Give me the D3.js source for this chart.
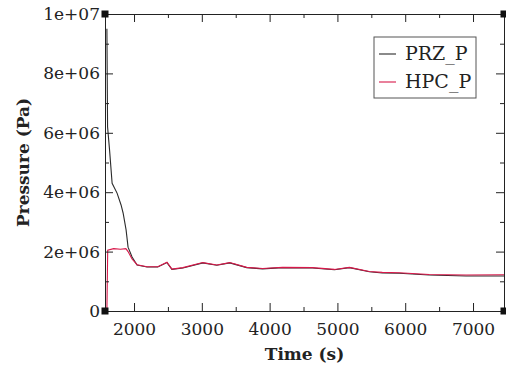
<!DOCTYPE html>
<html>
<head>
<meta charset="utf-8">
<script src="https://cdn.jsdelivr.net/npm/d3@7"></script>
<style>
  body { margin: 0; background: #fff; }
  svg { display: block; font-family: "DejaVu Serif", serif; }
  .axis path, .axis line { stroke: #222; }
  .axis text { font-size: 17px; fill: #222; font-family: "DejaVu Serif", serif; }
</style>
</head>
<body>
<div id="chart"></div>
<script>
// PRZ_P series
const przTime = [1600, 1610, 1640, 1677, 1750, 1809, 1839, 1883, 1912, 1971, 2045, 2192, 2350, 2486, 2559, 2721, 3015, 3221, 3412, 3662, 3897, 4192, 4633, 4956, 5177, 5471, 5662, 5912, 6353, 6897, 7457];
const przP = [9.5e6, 6.2e6, 5.4e6, 4.3e6, 3.97e6, 3.57e6, 3.3e6, 2.73e6, 2.15e6, 1.82e6, 1.55e6, 1.48e6, 1.48e6, 1.63e6, 1.4e6, 1.45e6, 1.62e6, 1.54e6, 1.62e6, 1.46e6, 1.42e6, 1.46e6, 1.45e6, 1.39e6, 1.46e6, 1.32e6, 1.28e6, 1.27e6, 1.21e6, 1.18e6, 1.18e6];

// HPC_P series
const hpcTime = [1600, 1612, 1700, 1800, 1880, 1912, 1971, 2045, 2192, 2350, 2486, 2559, 2721, 3015, 3221, 3412, 3662, 3897, 4192, 4633, 4956, 5177, 5471, 5662, 5912, 6353, 6897, 7457];
const hpcP = [0, 2.05e6, 2.1e6, 2.08e6, 2.1e6, 2.0e6, 1.75e6, 1.56e6, 1.49e6, 1.49e6, 1.64e6, 1.41e6, 1.46e6, 1.63e6, 1.55e6, 1.63e6, 1.47e6, 1.43e6, 1.47e6, 1.46e6, 1.4e6, 1.47e6, 1.33e6, 1.3e6, 1.29e6, 1.23e6, 1.21e6, 1.22e6];

const seriesNames = ["PRZ_P", "HPC_P"];
const seriesColors = ["#2b2b2b", "#d8184a"];

const xMajor = [2000, 3000, 4000, 5000, 6000, 7000];
const yMajor = [0, 2e6, 4e6, 6e6, 8e6, 1e7];
const yLabels = ["0", "2e+06", "4e+06", "6e+06", "8e+06", "1e+07"];

function buildChart() {
  const width = 506;
  const height = 367;
  const margin = { top: 14, right: 2, bottom: 56, left: 105 };
  const w = width - margin.left - margin.right;
  const h = height - margin.top - margin.bottom;

  const svg = d3.select("#chart")
    .append("svg")
    .attr("width", width)
    .attr("height", height);

  const g = svg.append("g")
    .attr("transform", `translate(${margin.left},${margin.top})`);

  const x = d3.scaleLinear().domain([1572, 7457]).range([0, w]);
  const y = d3.scaleLinear().domain([0, 1e7]).range([h, 0]);

  const xMinor = d3.range(2000, 7457, 500).filter((d) => d % 1000 !== 0);
  const yMinor = d3.range(1e6, 1e7, 2e6);

  // lines first, frame on top
  const series = [
    { name: seriesNames[0], t: przTime, p: przP, color: seriesColors[0] },
    { name: seriesNames[1], t: hpcTime, p: hpcP, color: seriesColors[1] }
  ];

  const line = d3.line()
    .x((d) => x(d[0]))
    .y((d) => y(d[1]));

  g.append("g")
    .attr("class", "lines")
    .selectAll("path")
    .data(series)
    .join("path")
    .attr("fill", "none")
    .attr("stroke", (d) => d.color)
    .attr("stroke-width", 1.1)
    .attr("d", (d) => line(d.t.map((t, i) => [t, d.p[i]])));

  // bottom axis
  g.append("g")
    .attr("class", "axis")
    .attr("transform", `translate(0,${h})`)
    .call(d3.axisBottom(x).tickValues(xMajor).tickSize(-8).tickSizeOuter(0).tickPadding(12).tickFormat(d3.format("d")));
  g.append("g")
    .attr("class", "axis")
    .attr("transform", `translate(0,${h})`)
    .call(d3.axisBottom(x).tickValues(xMinor).tickSize(-4).tickSizeOuter(0).tickFormat(""));

  // top axis
  g.append("g")
    .attr("class", "axis")
    .call(d3.axisTop(x).tickValues(xMajor).tickSize(-8).tickSizeOuter(0).tickFormat(""));
  g.append("g")
    .attr("class", "axis")
    .call(d3.axisTop(x).tickValues(xMinor).tickSize(-4).tickSizeOuter(0).tickFormat(""));

  // left axis
  g.append("g")
    .attr("class", "axis")
    .call(d3.axisLeft(y).tickValues(yMajor).tickSize(-8).tickSizeOuter(0).tickPadding(5)
      .tickFormat((d, i) => yLabels[i]));
  g.append("g")
    .attr("class", "axis")
    .call(d3.axisLeft(y).tickValues(yMinor).tickSize(-4).tickSizeOuter(0).tickFormat(""));

  // right axis
  g.append("g")
    .attr("class", "axis")
    .attr("transform", `translate(${w},0)`)
    .call(d3.axisRight(y).tickValues(yMajor).tickSize(-8).tickSizeOuter(0).tickFormat(""));
  g.append("g")
    .attr("class", "axis")
    .attr("transform", `translate(${w},0)`)
    .call(d3.axisRight(y).tickValues(yMinor).tickSize(-4).tickSizeOuter(0).tickFormat(""));

  // corner squares
  const corners = [[0, 0], [0, h], [w, 0], [w, h]];
  g.append("g")
    .selectAll("rect")
    .data(corners)
    .join("rect")
    .attr("x", (d) => d[0] - 3.5)
    .attr("y", (d) => d[1] - 3.5)
    .attr("width", 7)
    .attr("height", 7)
    .attr("fill", "#111");

  // axis titles
  svg.append("text")
    .attr("x", margin.left + w / 2)
    .attr("y", 360)
    .attr("text-anchor", "middle")
    .attr("font-size", 17)
    .attr("font-weight", "bold")
    .attr("fill", "#222")
    .text("Time (s)");

  svg.append("text")
    .attr("transform", `translate(29,${margin.top + h / 2}) rotate(-90)`)
    .attr("text-anchor", "middle")
    .attr("font-size", 17)
    .attr("font-weight", "bold")
    .attr("fill", "#222")
    .text("Pressure (Pa)");

  // legend
  const legend = svg.append("g")
    .attr("transform", "translate(374,37)");
  legend.append("rect")
    .attr("width", 102)
    .attr("height", 61)
    .attr("fill", "#fff")
    .attr("stroke", "#555")
    .attr("stroke-width", 1);
  const items = legend.selectAll("g.item")
    .data(series)
    .join("g")
    .attr("class", "item")
    .attr("transform", (d, i) => `translate(0,${17 + i * 28})`);
  items.append("line")
    .attr("x1", 5).attr("x2", 22)
    .attr("stroke", (d) => d.color)
    .attr("stroke-width", 1.1);
  items.append("text")
    .attr("x", 31)
    .attr("y", 6)
    .attr("font-size", 19)
    .attr("fill", "#222")
    .text((d) => d.name);
}

document.addEventListener("DOMContentLoaded", buildChart);
</script>
</body>
</html>
